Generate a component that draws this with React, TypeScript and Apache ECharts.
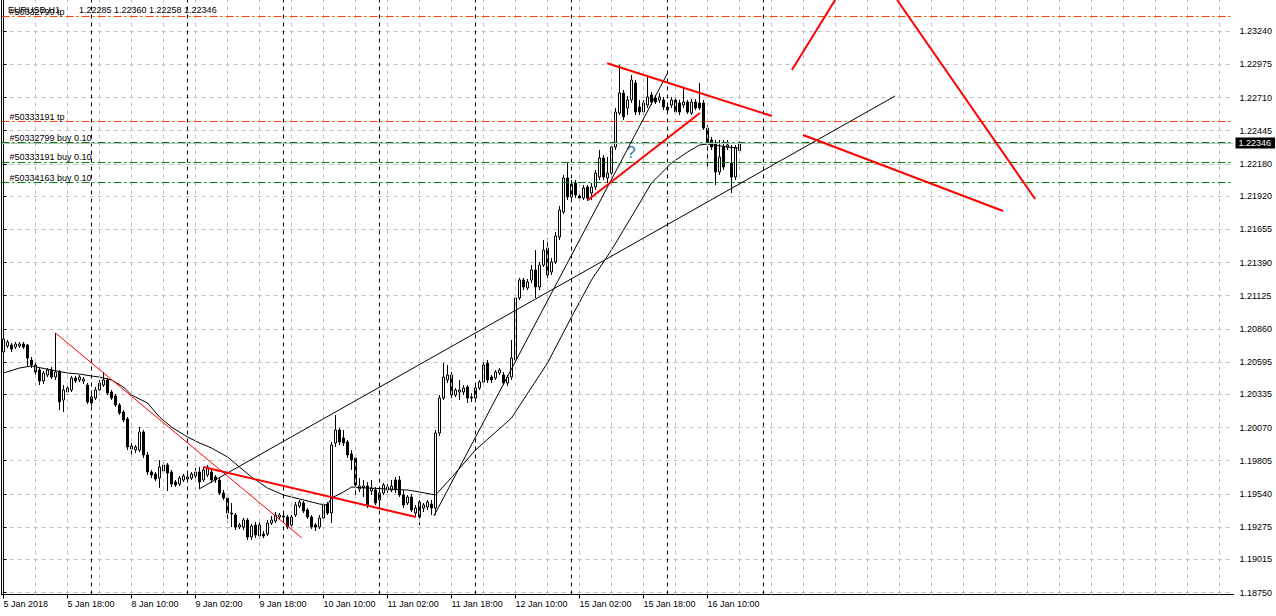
import React, { useEffect, useRef } from "react";
import * as echarts from "echarts";

const FONT = "Liberation Sans";

// x-axis tick labels, one every 16 hourly bars
const xTickLabels = [
  "5 Jan 2018", "5 Jan 18:00", "8 Jan 10:00", "9 Jan 02:00", "9 Jan 18:00", "10 Jan 10:00",
  "11 Jan 02:00", "11 Jan 18:00", "12 Jan 10:00", "15 Jan 02:00", "15 Jan 18:00", "16 Jan 10:00",
];
// price-axis tick labels
const yTickValues = [
  1.1875, 1.19015, 1.19275, 1.1954, 1.19805, 1.2007, 1.20335, 1.20595, 1.2086,
  1.21125, 1.2139, 1.21655, 1.2192, 1.2218, 1.22445, 1.2271, 1.22975, 1.2324,
];

// EURUSD H1 bars (5 Jan 02:00 .. 16 Jan 18:00)
const opens = [
  1.20674, 1.20722, 1.2073, 1.20714, 1.20722, 1.20738, 1.2073, 1.2061, 1.2057, 1.2053,
  1.20442, 1.2049, 1.2053, 1.20474, 1.20514, 1.2029, 1.20354, 1.2037, 1.20466, 1.2045,
  1.20442, 1.2041, 1.20266, 1.20306, 1.2037, 1.2041, 1.2045, 1.20354, 1.20322, 1.2025,
  1.20194, 1.20138, 1.19922, 1.1989, 1.1989, 1.20034, 1.1985, 1.19714, 1.19698, 1.19666,
  1.19722, 1.1977, 1.19714, 1.19634, 1.19618, 1.1965, 1.19658, 1.19666, 1.19682, 1.19714,
  1.1965, 1.1969, 1.19714, 1.19674, 1.1965, 1.19546, 1.19506, 1.19386, 1.1937, 1.19274,
  1.19274, 1.1933, 1.19194, 1.1929, 1.19202, 1.19218, 1.19218, 1.19306, 1.19322, 1.19354,
  1.19362, 1.19354, 1.1929, 1.1937, 1.19442, 1.19466, 1.1941, 1.19354, 1.1929, 1.19274,
  1.19346, 1.19458, 1.19386, 1.19946, 1.2005, 1.19986, 1.19954, 1.19858, 1.19826, 1.19578,
  1.19586, 1.19602, 1.19562, 1.1957, 1.1949, 1.19546, 1.1957, 1.1957, 1.1965, 1.1965,
  1.1953, 1.19466, 1.19514, 1.19386, 1.19474, 1.19426, 1.19434, 1.19458, 1.19426, 1.20026,
  1.20306, 1.2045, 1.2049, 1.2033, 1.20354, 1.20354, 1.20394, 1.20314, 1.20306, 1.20386,
  1.20434, 1.20586, 1.20474, 1.20466, 1.20506, 1.2049, 1.20426, 1.20474, 1.2061, 1.21106,
  1.2125, 1.21186, 1.2125, 1.2133, 1.21194, 1.2137, 1.21506, 1.21314, 1.21394, 1.21594,
  1.21794, 1.22066, 1.21914, 1.22026, 1.21922, 1.21906, 1.21994, 1.21946, 1.21994, 1.22074,
  1.22226, 1.22066, 1.22106, 1.22314, 1.22586, 1.22746, 1.22626, 1.2269, 1.22826, 1.22634,
  1.22594, 1.2265, 1.2273, 1.22706, 1.2269, 1.2269, 1.22634, 1.2265, 1.2269, 1.22666,
  1.2265, 1.22674, 1.22586, 1.22674, 1.22666, 1.22666, 1.22466, 1.2237, 1.22346, 1.22114,
  1.22314, 1.22314, 1.22186, 1.22074, 1.22285,
];
const highs = [
  1.20794, 1.2077, 1.20746, 1.20754, 1.20754, 1.20754, 1.20738, 1.20634, 1.20586, 1.20546,
  1.20522, 1.20546, 1.20554, 1.20826, 1.2053, 1.2041, 1.20402, 1.20482, 1.20482, 1.2049,
  1.20474, 1.20426, 1.2033, 1.20394, 1.2045, 1.20514, 1.20466, 1.2037, 1.20338, 1.20266,
  1.2021, 1.20154, 1.19946, 1.1993, 1.20074, 1.2005, 1.19874, 1.1973, 1.19714, 1.1981,
  1.19794, 1.19786, 1.1973, 1.1965, 1.19682, 1.19698, 1.19698, 1.19714, 1.19746, 1.19754,
  1.19746, 1.1977, 1.1973, 1.1969, 1.19666, 1.1957, 1.19522, 1.19466, 1.19386, 1.19306,
  1.19346, 1.19346, 1.19298, 1.19314, 1.19314, 1.19242, 1.1933, 1.19362, 1.19394, 1.19386,
  1.19378, 1.1937, 1.1937, 1.19474, 1.1949, 1.19482, 1.19426, 1.1937, 1.19306, 1.1937,
  1.19466, 1.19474, 1.19954, 1.2017, 1.20066, 1.2005, 1.1997, 1.1989, 1.1985, 1.19666,
  1.1965, 1.19634, 1.1965, 1.19594, 1.1957, 1.19626, 1.19618, 1.1965, 1.19674, 1.19682,
  1.1957, 1.1953, 1.19538, 1.1945, 1.1949, 1.19466, 1.1949, 1.1949, 1.2005, 1.2033,
  1.20586, 1.2057, 1.20514, 1.20386, 1.2045, 1.2041, 1.2041, 1.20346, 1.20402, 1.2045,
  1.20594, 1.2061, 1.2049, 1.2053, 1.20546, 1.20514, 1.2049, 1.2077, 1.2113, 1.21266,
  1.21266, 1.21258, 1.2137, 1.2149, 1.21394, 1.2157, 1.21586, 1.21426, 1.21634, 1.21842,
  1.2209, 1.22186, 1.2205, 1.2205, 1.21946, 1.2201, 1.2201, 1.22026, 1.2213, 1.2229,
  1.2225, 1.22234, 1.22346, 1.22626, 1.2297, 1.2277, 1.22722, 1.2289, 1.2285, 1.2269,
  1.2269, 1.2289, 1.22754, 1.2273, 1.22746, 1.22714, 1.2265, 1.22714, 1.22714, 1.2269,
  1.22794, 1.2269, 1.22698, 1.22698, 1.22826, 1.2269, 1.2249, 1.22394, 1.2237, 1.2237,
  1.2237, 1.2237, 1.2233, 1.2233, 1.2236,
];
const lows = [
  1.2065, 1.20706, 1.20674, 1.20698, 1.20706, 1.20698, 1.20562, 1.20546, 1.2049, 1.2041,
  1.20418, 1.20474, 1.20458, 1.2045, 1.2021, 1.20194, 1.2033, 1.20354, 1.20426, 1.20434,
  1.20418, 1.20258, 1.20242, 1.2029, 1.20354, 1.20394, 1.2033, 1.2029, 1.20234, 1.2017,
  1.20114, 1.1989, 1.19834, 1.19866, 1.19874, 1.19826, 1.1969, 1.19666, 1.19642, 1.19586,
  1.19698, 1.19562, 1.19594, 1.19594, 1.19602, 1.19634, 1.19642, 1.1965, 1.19666, 1.19578,
  1.19634, 1.19674, 1.19626, 1.19626, 1.1953, 1.1949, 1.19306, 1.19274, 1.1925, 1.19258,
  1.1925, 1.1917, 1.1917, 1.19186, 1.19178, 1.19186, 1.19202, 1.1929, 1.19306, 1.1933,
  1.1933, 1.19258, 1.19274, 1.19354, 1.19426, 1.19386, 1.19338, 1.19258, 1.19242, 1.19258,
  1.1933, 1.1937, 1.19306, 1.19914, 1.1993, 1.19922, 1.19826, 1.1973, 1.1953, 1.19554,
  1.19514, 1.19426, 1.1953, 1.1945, 1.19426, 1.1953, 1.19546, 1.19554, 1.19546, 1.19514,
  1.19426, 1.1945, 1.19394, 1.19362, 1.1929, 1.19394, 1.1941, 1.1937, 1.1937, 1.20002,
  1.2029, 1.20426, 1.20306, 1.20314, 1.2029, 1.2033, 1.20266, 1.20274, 1.20282, 1.2037,
  1.20418, 1.20426, 1.20426, 1.2045, 1.2049, 1.2041, 1.20402, 1.2045, 1.20594, 1.2109,
  1.2117, 1.2117, 1.21226, 1.21106, 1.2117, 1.21354, 1.21266, 1.2129, 1.21378, 1.2157,
  1.21778, 1.2189, 1.2189, 1.21906, 1.2189, 1.2189, 1.21882, 1.2189, 1.2197, 1.2205,
  1.2205, 1.22026, 1.22082, 1.2229, 1.2257, 1.2253, 1.2257, 1.22666, 1.2257, 1.2257,
  1.2257, 1.22626, 1.2265, 1.22658, 1.22666, 1.2261, 1.22594, 1.22626, 1.22578, 1.2257,
  1.22626, 1.22578, 1.2257, 1.2261, 1.2261, 1.2245, 1.22154, 1.2229, 1.2201, 1.2209,
  1.2213, 1.2229, 1.21946, 1.2205, 1.22258,
];
const closes = [
  1.20778, 1.20754, 1.20698, 1.20738, 1.20738, 1.20714, 1.20626, 1.2057, 1.20514, 1.20442,
  1.20506, 1.2053, 1.20474, 1.20514, 1.20274, 1.2037, 1.20386, 1.20466, 1.20442, 1.20474,
  1.20458, 1.20274, 1.20314, 1.2037, 1.20426, 1.2045, 1.20346, 1.20306, 1.2025, 1.20186,
  1.2013, 1.19914, 1.19898, 1.19914, 1.20034, 1.1985, 1.19714, 1.1969, 1.19658, 1.19754,
  1.1977, 1.19706, 1.19618, 1.1961, 1.19666, 1.19682, 1.19674, 1.19698, 1.19714, 1.19634,
  1.1973, 1.19754, 1.1965, 1.1965, 1.19546, 1.19506, 1.19386, 1.19378, 1.19274, 1.1929,
  1.1933, 1.19194, 1.19282, 1.1921, 1.1929, 1.19202, 1.19306, 1.1933, 1.1937, 1.1937,
  1.19354, 1.19274, 1.19354, 1.1945, 1.19474, 1.19402, 1.19354, 1.19274, 1.19274, 1.19346,
  1.1945, 1.19386, 1.1993, 1.2005, 1.19954, 1.19946, 1.1985, 1.1981, 1.1961, 1.19602,
  1.19602, 1.1945, 1.19586, 1.19466, 1.19546, 1.1961, 1.19594, 1.19602, 1.1957, 1.1953,
  1.1945, 1.19514, 1.1941, 1.19426, 1.19354, 1.1945, 1.19474, 1.19426, 1.20026, 1.20306,
  1.20474, 1.2049, 1.2033, 1.2037, 1.2037, 1.20386, 1.20306, 1.20306, 1.20386, 1.20434,
  1.2057, 1.2045, 1.2045, 1.20514, 1.2053, 1.20426, 1.20474, 1.20626, 1.21106, 1.2125,
  1.21194, 1.21234, 1.2133, 1.21194, 1.2137, 1.2149, 1.2129, 1.21394, 1.21602, 1.2181,
  1.22066, 1.21914, 1.22018, 1.2193, 1.21906, 1.21986, 1.21906, 1.21994, 1.22106, 1.22226,
  1.22074, 1.22106, 1.22314, 1.22594, 1.22746, 1.22554, 1.2269, 1.2285, 1.22594, 1.22594,
  1.22666, 1.22714, 1.22674, 1.22674, 1.22714, 1.22634, 1.2261, 1.2269, 1.22594, 1.22594,
  1.22674, 1.22594, 1.22674, 1.22626, 1.22626, 1.22466, 1.22346, 1.22314, 1.22114, 1.22234,
  1.22154, 1.2233, 1.22074, 1.22306, 1.22346,
];

// moving average read at sample bars
const maBars = [
  0, 4, 7, 12, 16, 19, 22, 24, 27, 30, 32, 36, 39, 42, 46, 49, 52, 56, 59, 62, 66, 70, 74, 79,
  81, 82, 85, 87, 91, 96, 101, 104, 108, 112, 118, 127, 136, 142, 147, 152, 158, 162, 167, 171, 174,
  176, 181, 184,
];
const maValues = [
  1.20506, 1.20546, 1.20562, 1.2053, 1.20506, 1.20498, 1.20482, 1.20474, 1.2045, 1.20394,
  1.2033, 1.20266, 1.20154, 1.20074, 1.19994, 1.19946, 1.19906, 1.19834, 1.19754, 1.19674,
  1.19586, 1.1953, 1.19498, 1.19458, 1.1945, 1.19506, 1.19554, 1.19594, 1.19586, 1.19578,
  1.1957, 1.19554, 1.1953, 1.1967, 1.1989, 1.20146, 1.20586, 1.20954, 1.2125, 1.2149, 1.2181,
  1.22026, 1.22186, 1.22274, 1.2233, 1.22338, 1.22314, 1.22306,
];

// hand-drawn trend lines: [bar position, price] end points
const redFallLine = [[13, 1.20826], [74.6, 1.19186]];
const redFlatLine = [[49.9, 1.19754], [103.1, 1.19354]];
const blackLongLine = [[48.9, 1.19578], [222.9, 1.22722]];
const blackSteepLine = [[107.6, 1.19362], [165.9, 1.22898]];
const redWedgeLow = [[146.1, 1.2189], [174.1, 1.22586]];
const redWedgeHigh = [[150.9, 1.22984], [192.1, 1.22562]];
const redFutureA = [[197.1, 1.2293], [207.9, 1.2349]];
const redFutureB = [[223.4, 1.2349], [257.9, 1.21898]];
const redFutureC = [[199.9, 1.2241], [249.9, 1.21802]];
const questionMark = [156.9, 1.22274];

// order levels
const orderPrices = [1.23362, 1.2252, 1.22352, 1.22196, 1.22032];
const orderLabels = ["#50332799 tp", "#50333191 tp", "#50332799 buy 0.10", "#50333191 buy 0.10", "#50334163 buy 0.10"];
const orderKinds = ["tp", "tp", "buy", "buy", "buy"];
const bidPrice = 1.22346;
const headerSymbol = "EURUSD,H1";
const headerOHLC = "1.22285 1.22360 1.22258 1.22346";

// day separators (bar index at 00:00)
const daySeparatorBars = [22, 46, 70, 94, 118, 142, 166, 190];

const SLOTS = 308;
const Y_MIN = 1.18734;
const Y_MAX = 1.2349;

function lineSeries(pts: number[][], color: string, width: number) {
  return {
    type: "line",
    xAxisIndex: 1,
    yAxisIndex: 0,
    data: pts,
    showSymbol: false,
    symbol: "none",
    silent: true,
    clip: true,
    z: 5,
    lineStyle: { color, width },
  };
}

export default function App() {
  const ref = useRef<HTMLDivElement>(null);
  useEffect(() => {
    if (!ref.current) return;
    const chart = echarts.init(ref.current, undefined, { renderer: "svg" });
    const categories = Array.from({ length: SLOTS }, (_, i) => String(i));
    const showTick = (i: number) => i % 16 === 0 && i / 16 < xTickLabels.length;
    const gridBars: number[] = [];
    for (let i = 8; i < SLOTS; i += 8) gridBars.push(i);
    const candles = opens.map((o, i) => [o, closes[i], lows[i], highs[i]]);
    const ma = maBars.map((b, i) => [b, maValues[i]]);
    const xStart = -0.5;
    const xEnd = SLOTS - 0.5;

    const ORANGE = "#ff4500";
    const GREEN = "#008000";

    const levelLines: any[] = orderPrices.map((p, i) => [
      {
        coord: [xStart, p],
        lineStyle: { color: orderKinds[i] === "tp" ? ORANGE : GREEN, type: [8, 3, 2, 3], width: 1 },
        label: {
          show: true,
          position: "insideStartTop",
          formatter: orderLabels[i],
          color: "#000",
          fontSize: 9,
          fontFamily: FONT,
          distance: [8, 0],
        },
      },
      { coord: [xEnd, p] },
    ]);
    levelLines.push([
      {
        coord: [xStart, bidPrice],
        lineStyle: { color: "#c0c0c0", type: "solid", width: 1 },
        label: {
          show: true,
          position: "end",
          formatter: bidPrice.toFixed(5),
          color: "#fff",
          backgroundColor: "#000",
          padding: [1, 4, 1, 3],
          fontSize: 9,
          fontFamily: FONT,
          distance: 2,
        },
      },
      { coord: [xEnd, bidPrice] },
    ]);

    const option: any = {
      animation: false,
      textStyle: { fontFamily: FONT },
      grid: { left: 1.5, right: 42.5, top: 0, bottom: 21.5, containLabel: false },
      xAxis: [
        {
          type: "category",
          data: categories,
          boundaryGap: true,
          axisLine: { show: true, lineStyle: { color: "#000", width: 1 } },
          axisTick: { show: true, alignWithLabel: true, interval: (i: number) => showTick(i), length: 4, lineStyle: { color: "#000" } },
          axisLabel: {
            interval: (i: number) => showTick(i),
            formatter: (_v: string, i: number) => xTickLabels[i / 16] ?? "",
            align: "left",
            margin: 5,
            fontSize: 9,
            color: "#000",
            fontFamily: FONT,
          },
          splitLine: { show: false },
        },
        { type: "value", min: xStart, max: xEnd, show: false },
      ],
      yAxis: {
        type: "value",
        position: "right",
        min: Y_MIN,
        max: Y_MAX,
        axisLine: { show: true, lineStyle: { color: "#000" } },
        axisTick: { show: true, customValues: yTickValues, length: 3, lineStyle: { color: "#000" } },
        axisLabel: {
          customValues: yTickValues,
          formatter: (v: number) => v.toFixed(5),
          margin: 6,
          fontSize: 9,
          color: "#000",
          fontFamily: FONT,
        },
        splitLine: { show: true, lineStyle: { color: "#c0c0c0", type: [4, 4], width: 1 } },
      },
      graphic: [
        { type: "line", shape: { x1: 1.5, y1: 0, x2: 1.5, y2: 594.5 }, style: { stroke: "#000", lineWidth: 1 }, z: 100 },
        { type: "text", left: 8, top: 5, style: { text: headerSymbol, fontSize: 9, fontFamily: FONT, fill: "#000" }, z: 100 },
        { type: "text", left: 79, top: 5, style: { text: headerOHLC, fontSize: 9, fontFamily: FONT, fill: "#000" }, z: 100 },
      ],
      series: [
        {
          type: "line",
          xAxisIndex: 1,
          data: [],
          silent: true,
          z: 1,
          markLine: {
            silent: true,
            symbol: ["none", "none"],
            label: { show: false },
            lineStyle: { color: "#c0c0c0", type: [4, 4], width: 1 },
            data: gridBars.filter((b) => !daySeparatorBars.includes(b)).map((b) => ({ xAxis: b })),
          },
        },
        {
          type: "line",
          xAxisIndex: 1,
          data: [],
          silent: true,
          z: 2,
          markLine: {
            silent: true,
            symbol: ["none", "none"],
            label: { show: false },
            lineStyle: { color: "#000", type: [4, 4], width: 1 },
            data: daySeparatorBars.map((b) => ({ xAxis: b })),
          },
        },
        {
          type: "line",
          xAxisIndex: 1,
          yAxisIndex: 0,
          data: [],
          silent: true,
          z: 2,
          markLine: {
            silent: true,
            symbol: ["none", "none"],
            data: levelLines,
          },
        },
        {
          type: "candlestick",
          xAxisIndex: 0,
          yAxisIndex: 0,
          data: candles,
          barWidth: 2,
          z: 3,
          silent: true,
          itemStyle: { color: "#fff", color0: "#000", borderColor: "#000", borderColor0: "#000", borderWidth: 1 },
        },
        { ...lineSeries(ma, "#000", 1), z: 4 },
        lineSeries(blackLongLine, "#000", 1),
        lineSeries(blackSteepLine, "#000", 1),
        lineSeries(redFallLine, "#ff0000", 1),
        lineSeries(redFlatLine, "#ff0000", 2),
        lineSeries(redWedgeLow, "#ff0000", 2),
        lineSeries(redWedgeHigh, "#ff0000", 2),
        lineSeries(redFutureA, "#ff0000", 2),
        lineSeries(redFutureB, "#ff0000", 2),
        {
          ...lineSeries(redFutureC, "#ff0000", 2),
          markPoint: {
            silent: true,
            symbol: "circle",
            symbolSize: 0,
            data: [{ coord: questionMark }],
            label: { show: true, formatter: "?", fontSize: 17, color: "#2a7fa8", fontFamily: FONT, position: "inside" },
          },
        },
      ],
    };
    chart.setOption(option);
    return () => chart.dispose();
  }, []);
  return (
    <div
      ref={ref}
      style={{ position: "absolute", left: 0, top: 0, width: 1276, height: 616, background: "#fff" }}
    />
  );
}
